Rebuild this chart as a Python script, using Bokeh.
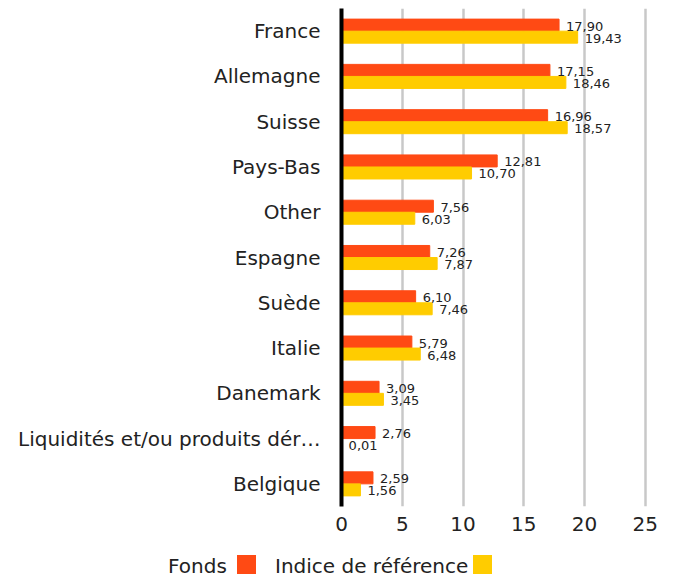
from bokeh.plotting import figure
from bokeh.models import ColumnDataSource, FactorRange, Range1d, FixedTicker, Div
from bokeh.transform import dodge
from bokeh.layouts import column
from bokeh.embed import file_html
from bokeh.resources import INLINE
from bokeh.core.properties import value

categories = ["France", "Allemagne", "Suisse", "Pays-Bas", "Other", "Espagne",
              "Suède", "Italie", "Danemark", "Liquidités et/ou produits dér…", "Belgique"]
fonds = [17.90, 17.15, 16.96, 12.81, 7.56, 7.26, 6.10, 5.79, 3.09, 2.76, 2.59]
indice = [19.43, 18.46, 18.57, 10.70, 6.03, 7.87, 7.46, 6.48, 3.45, 0.01, 1.56]
x_ticks = [0, 5, 10, 15, 20, 25]
series_names = ["Fonds", "Indice de référence"]
colors = ["#FF4A14", "#FFCC00"]

FONT = "DejaVu Sans"
TXT = "#222222"

def fmt(v):
    return f"{v:.2f}".replace(".", ",")

src = ColumnDataSource(dict(
    cat=categories, fonds=fonds, indice=indice,
    fonds_lbl=[fmt(v) for v in fonds], indice_lbl=[fmt(v) for v in indice],
))

p = figure(width=660, height=540, output_backend="svg", toolbar_location=None,
           y_range=FactorRange(factors=list(reversed(categories))),
           x_range=Range1d(0, 26),
           min_border_left=341, min_border_right=3, min_border_top=8, min_border_bottom=34)

p.hbar(y=dodge("cat", 0.133, range=p.y_range), right="fonds", left=0, height=0.265,
       color=colors[0], source=src)
p.hbar(y=dodge("cat", -0.133, range=p.y_range), right="indice", left=0, height=0.265,
       color=colors[1], source=src)

p.text(x="fonds", y=dodge("cat", 0.133, range=p.y_range), text="fonds_lbl", source=src,
       x_offset=7, y_offset=1, text_baseline="middle", text_align="left",
       text_font=value(FONT), text_font_size="13px", text_color=TXT)
p.text(x="indice", y=dodge("cat", -0.133, range=p.y_range), text="indice_lbl", source=src,
       x_offset=7, y_offset=1, text_baseline="middle", text_align="left",
       text_font=value(FONT), text_font_size="13px", text_color=TXT)

p.outline_line_color = None
p.ygrid.grid_line_color = None
p.xgrid.grid_line_color = "#c8c8c8"
p.xgrid.grid_line_width = 2.5
p.xaxis.ticker = FixedTicker(ticks=x_ticks)
p.xaxis.axis_line_color = None
p.xaxis.major_tick_line_color = None
p.xaxis.minor_tick_line_color = None
p.xaxis.major_label_text_font = FONT
p.xaxis.major_label_text_font_size = "20px"
p.xaxis.major_label_text_color = TXT
p.xaxis.major_label_standoff = 4

p.yaxis.axis_line_color = "black"
p.yaxis.axis_line_width = 4
p.yaxis.major_tick_line_color = None
p.yaxis.minor_tick_line_color = None
p.yaxis.major_label_text_font = FONT
p.yaxis.major_label_text_font_size = "20px"
p.yaxis.major_label_text_color = TXT
p.yaxis.major_label_standoff = 15

# legend strip: label text followed by a colour square
text_left = [168, 275]
sq_left = [237, 473]
parts = []
for name, col, tx, sx in zip(series_names, colors, text_left, sq_left):
    parts.append(f'<span style="position:absolute;left:{tx}px;top:16px;line-height:20px;'
                 f'white-space:nowrap;">{name}</span>')
    parts.append(f'<span style="position:absolute;left:{sx}px;top:15px;width:19px;height:19px;'
                 f'background:{col};"></span>')
legend_html = (f'<div style="position:relative;width:660px;height:40px;font-family:\'{FONT}\';'
               f'font-size:20px;color:{TXT};">' + "".join(parts) + '</div>')
lg = Div(text=legend_html, width=660, height=40, margin=(0, 0, 0, 0))

layout = column(p, lg, spacing=0)
open("out.html", "w").write(file_html(layout, INLINE))
